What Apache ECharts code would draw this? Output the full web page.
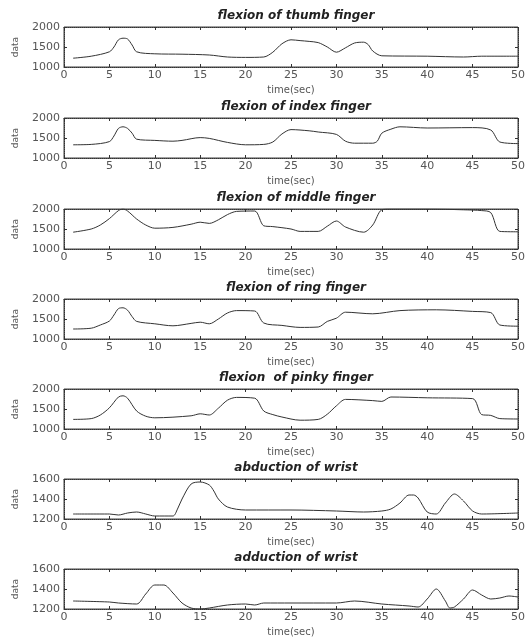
<!DOCTYPE html>
<html>
<head>
<meta charset="utf-8">
<script src="https://cdn.jsdelivr.net/npm/echarts@6/dist/echarts.min.js"></script>
<style>
  html, body { margin: 0; padding: 0; background: #fff; }
  #chart { width: 528px; height: 640px; }
</style>
</head>
<body>
<div id="chart"></div>
<script>
// titulos dos subplots
const titulos = [
  'flexion of thumb finger',
  'flexion of index finger',
  'flexion of middle finger',
  'flexion of ring finger',
  'flexion  of pinky finger',
  'abduction of wrist',
  'adduction of wrist'
];

// dados (tempo, valor)
const thumbT = [1, 3, 5, 5.5, 6, 6.5, 7, 7.5, 8, 10, 13, 16, 18, 20, 22, 23, 24, 25, 26, 27, 28, 29, 30, 31, 32, 33, 33.5, 34, 35, 40, 44, 46, 50];
const thumbV = [1220, 1270, 1380, 1500, 1680, 1720, 1700, 1550, 1380, 1330, 1320, 1300, 1250, 1240, 1250, 1370, 1580, 1680, 1660, 1640, 1610, 1500, 1370, 1480, 1600, 1620, 1560, 1400, 1280, 1270, 1250, 1270, 1270];

const indexT = [1, 3, 5, 5.5, 6, 6.5, 7, 7.5, 8, 10, 12, 13, 15, 16, 18, 20, 22, 23, 24, 25, 27, 28, 30, 31, 32, 34, 34.5, 35, 36, 37, 40, 45, 47, 48, 50];
const indexV = [1330, 1340, 1410, 1550, 1740, 1780, 1740, 1620, 1470, 1440, 1420, 1440, 1510, 1490, 1390, 1330, 1340, 1400, 1600, 1710, 1680, 1650, 1590, 1420, 1370, 1370, 1420, 1620, 1720, 1780, 1750, 1760, 1700, 1400, 1360];

const middleT = [1, 3, 4, 5, 6, 6.5, 7, 8, 9, 10, 12, 14, 15, 16, 17, 18, 19, 21, 22, 23, 25, 26, 28, 29, 30, 31, 33, 34, 35, 36, 40, 44, 46, 47, 48, 50];
const middleV = [1420, 1500, 1600, 1760, 1960, 2000, 1950, 1750, 1600, 1520, 1540, 1620, 1670, 1640, 1730, 1860, 1940, 1950, 1580, 1560, 1500, 1440, 1440, 1570, 1700, 1550, 1420, 1600, 1980, 2000, 2000, 1980, 1960, 1910, 1440, 1430];

const ringT = [1, 3, 4, 5, 5.5, 6, 6.5, 7, 7.5, 8, 10, 12, 14, 15, 16, 17, 18, 19, 21, 22, 24, 26, 28, 29, 30, 31, 34, 37, 41, 45, 47, 48, 50];
const ringV = [1250, 1270, 1350, 1450, 1600, 1760, 1780, 1720, 1560, 1440, 1380, 1330, 1390, 1420, 1380, 1500, 1650, 1710, 1700, 1400, 1340, 1290, 1300, 1440, 1520, 1670, 1630, 1710, 1730, 1690, 1660, 1350, 1320];

const pinkyT = [1, 3, 4, 5, 6, 6.5, 7, 8, 9, 10, 14, 15, 16, 17, 18, 19, 21, 22, 23, 24, 26, 28, 29, 30, 31, 34, 35, 36, 40, 45, 46, 47, 48, 50];
const pinkyV = [1240, 1260, 1350, 1530, 1800, 1830, 1770, 1450, 1320, 1280, 1330, 1380, 1350, 1520, 1720, 1790, 1770, 1450, 1360, 1300, 1220, 1240, 1370, 1580, 1740, 1710, 1690, 1800, 1780, 1760, 1360, 1340, 1260, 1250];

const abdT = [1, 5, 6, 7, 8, 9, 10, 12, 12.5, 13, 14, 15, 16, 16.5, 17, 18, 20, 25, 30, 33, 35, 36, 37, 38, 38.5, 39, 40, 41, 42, 43, 44, 45, 46, 50];
const abdV = [1250, 1250, 1240, 1260, 1270, 1250, 1230, 1230, 1300, 1400, 1550, 1570, 1540, 1480, 1400, 1320, 1290, 1290, 1280, 1270, 1280, 1300, 1360, 1440, 1440, 1410, 1270, 1250, 1360, 1450, 1380, 1280, 1250, 1260];

const addT = [1, 5, 6, 8, 9, 10, 11, 12, 13, 14, 15, 16, 18, 20, 21, 22, 25, 30, 32, 35, 38, 39, 40, 41, 42, 42.5, 43, 44, 45, 46, 47, 48, 49, 50];
const addV = [1280, 1270, 1260, 1250, 1350, 1440, 1440, 1360, 1260, 1210, 1200, 1210, 1240, 1250, 1240, 1260, 1260, 1260, 1280, 1250, 1230, 1220, 1300, 1400, 1280, 1210, 1220, 1300, 1390, 1340, 1300, 1310, 1330, 1320];

const series_t = [thumbT, indexT, middleT, ringT, pinkyT, abdT, addT];
const series_v = [thumbV, indexV, middleV, ringV, pinkyV, abdV, addV];

// faixas do eixo y
const yMin = [1000, 1000, 1000, 1000, 1000, 1200, 1200];
const yMax = [2000, 2000, 2000, 2000, 2000, 1600, 1600];
const yStep = [500, 500, 500, 500, 500, 200, 200];

const topos = [27, 118, 209, 299, 389, 479, 569];
const corTexto = '#555';
const corLinha = '#333';

const chart = echarts.init(document.getElementById('chart'));

const title = [], grid = [], xAxis = [], yAxis = [], series = [];

titulos.forEach((t, i) => {
  title.push({
    text: t,
    left: 291, top: topos[i] - 22, textAlign: 'center',
    textStyle: { fontFamily: 'DejaVu Sans', fontSize: 12, fontWeight: 'bold', fontStyle: 'italic', color: '#222' }
  });
  grid.push({
    left: 64, right: 10, top: topos[i], height: 40,
    show: true, borderColor: '#444', borderWidth: 1, backgroundColor: 'transparent'
  });
});

const linhaEixo = { show: true, onZero: false, lineStyle: { color: corLinha, type: 'dotted' } };
const tickEixo = { show: true, inside: true, length: 3, lineStyle: { color: corLinha } };

// eixos de baixo/esquerda (com rótulos)
titulos.forEach((t, i) => {
  xAxis.push({
    type: 'value', gridIndex: i, min: 0, max: 50, interval: 5,
    name: 'time(sec)', nameLocation: 'middle', nameGap: 18,
    nameTextStyle: { fontFamily: 'DejaVu Sans', fontSize: 10, color: corTexto },
    axisLine: linhaEixo, axisTick: tickEixo,
    axisLabel: { margin: 3, fontFamily: 'DejaVu Sans', fontSize: 11, color: corTexto },
    splitLine: { show: false }
  });
  yAxis.push({
    type: 'value', gridIndex: i, min: yMin[i], max: yMax[i], interval: yStep[i],
    name: 'data', nameLocation: 'middle', nameGap: 44,
    nameTextStyle: { fontFamily: 'DejaVu Sans', fontSize: 9, color: corTexto },
    axisLine: linhaEixo, axisTick: tickEixo,
    axisLabel: { margin: 4, fontFamily: 'DejaVu Sans', fontSize: 11, color: corTexto, formatter: v => String(v) },
    splitLine: { show: false }
  });
});

// eixos de cima/direita (moldura estilo matlab)
titulos.forEach((t, i) => {
  xAxis.push({
    type: 'value', gridIndex: i, min: 0, max: 50, interval: 5, position: 'top',
    axisLine: linhaEixo, axisTick: tickEixo,
    axisLabel: { show: false }, splitLine: { show: false }
  });
  yAxis.push({
    type: 'value', gridIndex: i, min: yMin[i], max: yMax[i], interval: yStep[i], position: 'right',
    axisLine: linhaEixo, axisTick: tickEixo,
    axisLabel: { show: false }, splitLine: { show: false }
  });
});

series_t.forEach((ts, i) => {
  series.push({
    type: 'line', xAxisIndex: i, yAxisIndex: i,
    data: ts.map((x, k) => [x, series_v[i][k]]),
    showSymbol: false, smooth: 0.3, clip: true,
    lineStyle: { color: corLinha, width: 1 }
  });
});

chart.setOption({
  animation: false,
  backgroundColor: '#fff',
  title, grid, xAxis, yAxis, series
});
</script>
</body>
</html>
